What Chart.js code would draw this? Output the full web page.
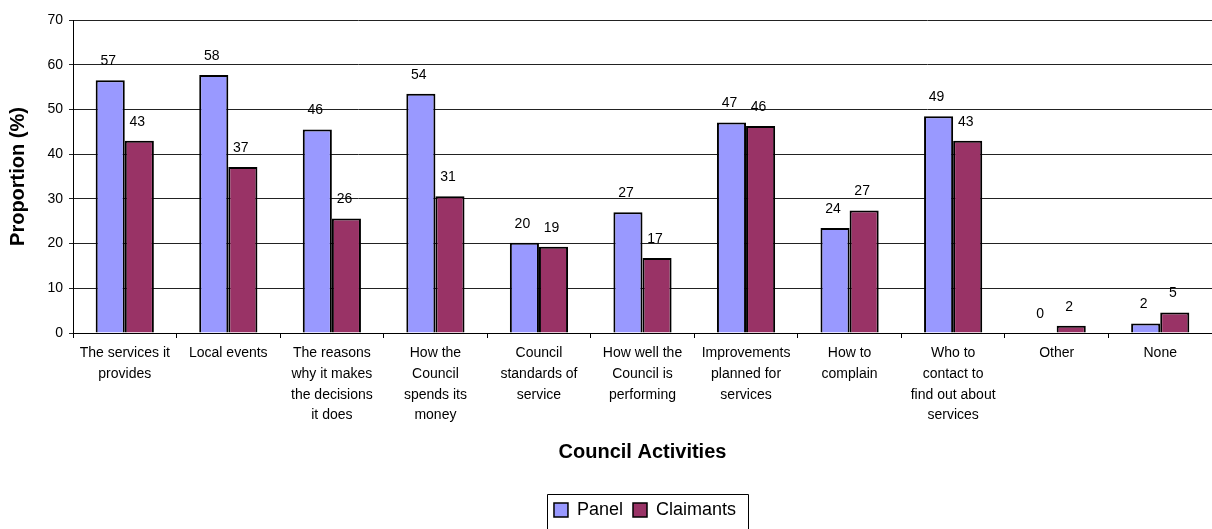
<!DOCTYPE html>
<html>
<head>
<meta charset="utf-8">
<script src="https://cdn.jsdelivr.net/npm/chart.js@4.4.1/dist/chart.umd.min.js"></script>
<style>
html,body{margin:0;padding:0;background:#fff;overflow:hidden;}
#wrap{width:1212px;height:529px;position:relative;}
</style>
</head>
<body>
<div id="wrap"><canvas id="c" width="1212" height="529"></canvas></div>
<script>
const categories = [
  ["The services it","provides"],
  ["Local events"],
  ["The reasons","why it makes","the decisions","it does"],
  ["How the","Council","spends its","money"],
  ["Council","standards of","service"],
  ["How well the","Council is","performing"],
  ["Improvements","planned for","services"],
  ["How to","complain"],
  ["Who to","contact to","find out about","services"],
  ["Other"],
  ["None"]
];
const panelValues = [56.5, 57.7, 45.5, 53.5, 20.2, 27.0, 47.1, 23.5, 48.5, 0, 2.1];
const claimantValues = [43.0, 37.1, 25.6, 30.6, 19.3, 16.8, 46.3, 27.4, 43.0, 1.6, 4.6];
const seriesNames = ["Panel", "Claimants"];
const yMin = 0, yMax = 70, yStep = 10;
const xTitle = "Council Activities";
const yTitle = "Proportion (%)";

const FONT = 'Arial, "Liberation Sans", sans-serif';

const dataLabels = {
  id: 'dataLabels',
  afterDatasetsDraw(chart) {
    const ctx = chart.ctx;
    ctx.save();
    ctx.font = '14px ' + FONT;
    ctx.fillStyle = '#000';
    ctx.textAlign = 'center';
    ctx.textBaseline = 'middle';
    chart.data.datasets.forEach((ds, di) => {
      const meta = chart.getDatasetMeta(di);
      meta.data.forEach((bar, i) => {
        const v = ds.data[i];
        ctx.fillText(String(Math.round(v)), bar.x - 2, bar.y - 19);
      });
    });
    ctx.restore();
  }
};

const legendShift = {
  id: 'legendShift',
  afterLayout(chart) {
    const lg = chart.legend;
    if (!lg) return;
    const shift = 39;
    lg.left += shift;
    lg.right += shift;
  }
};

const legendBorder = {
  id: 'legendBorder',
  afterDraw(chart) {
    const lg = chart.legend;
    if (!lg || !lg.legendHitBoxes || !lg.legendHitBoxes.length) return;
    let l = Infinity, r = -Infinity, c = 0;
    lg.legendHitBoxes.forEach(b => { l = Math.min(l, b.left); r = Math.max(r, b.left + b.width); c = b.top + b.height / 2; });
    const ctx = chart.ctx;
    ctx.save();
    ctx.strokeStyle = '#000';
    ctx.lineWidth = 1;
    const L = Math.round(l - 7) + 0.5, R = Math.round(r + 12) + 0.5, T = Math.round(c - 16) + 0.5;
    ctx.beginPath();
    ctx.moveTo(L, chart.height + 2);
    ctx.lineTo(L, T);
    ctx.lineTo(R, T);
    ctx.lineTo(R, chart.height + 2);
    ctx.stroke();
    ctx.restore();
  }
};

new Chart(document.getElementById('c'), {
  type: 'bar',
  data: {
    labels: categories,
    datasets: [
      { label: seriesNames[0], data: panelValues, backgroundColor: '#9999FF', borderColor: '#000', borderWidth: 2 },
      { label: seriesNames[1], data: claimantValues, backgroundColor: '#993366', borderColor: '#000', borderWidth: 2 }
    ]
  },
  options: {
    responsive: false,
    animation: false,
    devicePixelRatio: 1,
    layout: { padding: { top: 20, right: 0, left: 0, bottom: 0 } },
    datasets: { bar: { categoryPercentage: 0.562, barPercentage: 1.0 } },
    plugins: {
      tooltip: { enabled: false },
      legend: {
        position: 'bottom',
        labels: {
          font: { family: FONT, size: 18 },
          color: '#000',
          boxWidth: 14,
          boxHeight: 14,
          padding: 10,
          generateLabels(chart) {
            return chart.data.datasets.map((ds, i) => ({
              text: ds.label, fillStyle: ds.backgroundColor, strokeStyle: '#000', lineWidth: 1.5, datasetIndex: i, fontColor: '#000'
            }));
          }
        }
      }
    },
    scales: {
      x: {
        grid: { display: true, drawOnChartArea: false, color: '#000', tickLength: 5, offset: true },
        border: { display: true, color: '#000', width: 1 },
        ticks: { font: { family: FONT, size: 14, lineHeight: 1.48 }, color: '#000', maxRotation: 0, autoSkip: false, padding: 5 },
        title: { display: true, text: xTitle, font: { family: FONT, size: 20, weight: 'bold' }, color: '#000', padding: { top: 6, bottom: 27 } },
        afterFit(scale) { scale.height = 158; }
      },
      y: {
        min: yMin, max: yMax,
        ticks: { stepSize: yStep, font: { family: FONT, size: 14 }, color: '#000', padding: 6 },
        grid: { color: '#222', lineWidth: 1, tickLength: 4 },
        border: { display: true, color: '#000', width: 1 },
        title: { display: true, text: yTitle, font: { family: FONT, size: 20, weight: 'bold' }, color: '#000', padding: { top: 6, bottom: 0 } },
        afterFit(scale) { scale.width = 73; }
      }
    }
  },
  plugins: [dataLabels, legendShift, legendBorder]
});
</script>
</body>
</html>
